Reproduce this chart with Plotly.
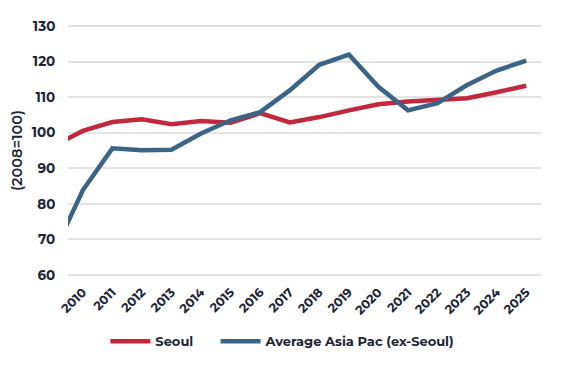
import plotly.graph_objects as go

years = list(range(2009, 2026))
tick_years = list(range(2010, 2026))
seoul = [96.2, 100.5, 103.0, 103.8, 102.4, 103.3, 102.8, 105.5, 102.9, 104.4, 106.3,
         108.0, 108.8, 109.4, 109.7, 111.4, 113.2]
asia_pac = [66.0, 83.8, 95.6, 95.1, 95.2, 99.8, 103.5, 105.8, 111.9, 119.1, 122.0,
            112.9, 106.3, 108.3, 113.4, 117.5, 120.3]

FONT = "Montserrat, 'DejaVu Sans', sans-serif"
TXT = "#1d2535"

fig = go.Figure()
fig.add_trace(go.Scatter(x=years, y=seoul, mode="lines", name="Seoul",
                         line=dict(color="#c1283e", width=4.5), legend="legend"))
fig.add_trace(go.Scatter(x=years, y=asia_pac, mode="lines", name="Average Asia Pac (ex-Seoul)",
                         line=dict(color="#3a6486", width=4.5), legend="legend2"))

leg_common = dict(orientation="h", xanchor="left", y=-0.26, yanchor="middle",
                  font=dict(size=13, weight="bold", color=TXT), itemwidth=40)

fig.update_layout(
    width=554, height=359,
    margin=dict(l=60, r=21, t=17, b=91, autoexpand=False),
    paper_bgcolor="white", plot_bgcolor="white",
    font=dict(family=FONT, color=TXT, size=12),
    showlegend=True,
    legend=dict(x=0.079, **leg_common),
    legend2=dict(x=0.312, **leg_common),
    xaxis=dict(range=[2009.5, 2025.5], tickvals=tick_years, ticktext=[str(y) for y in tick_years],
               tickangle=-45, showgrid=False, zeroline=False, showline=False,
               tickfont=dict(size=12.5, weight="bold", color=TXT),
               ticks="outside", ticklen=3, tickcolor="rgba(0,0,0,0)"),
    yaxis=dict(range=[59.7, 130.3], dtick=10, tick0=60, showgrid=True, gridcolor="#e4e4e4",
               gridwidth=1.5, zeroline=False, showline=False,
               tickfont=dict(size=13.5, weight="bold", color=TXT),
               ticks="outside", ticklen=9, tickcolor="rgba(0,0,0,0)",
               title=dict(text="(2008=100)", font=dict(size=14.5, weight=600, color=TXT),
                          standoff=6)),
)

fig.write_html("out.html")
